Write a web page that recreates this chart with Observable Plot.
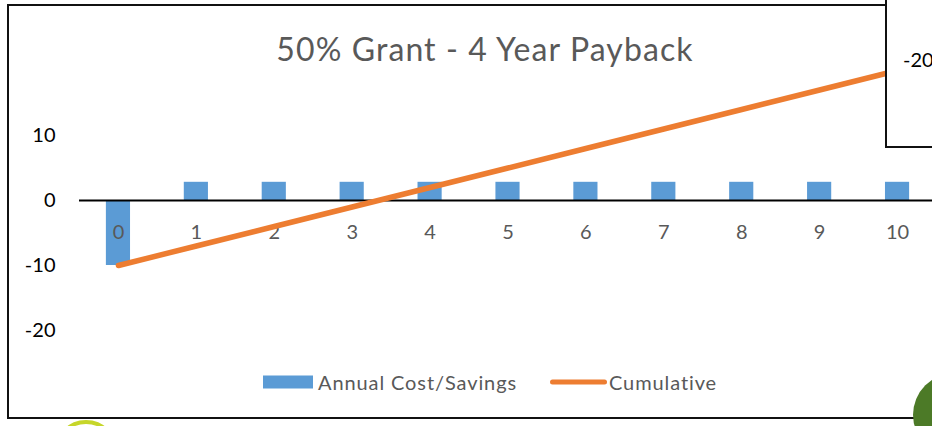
<!DOCTYPE html>
<html>
<head>
<meta charset="utf-8">
<script src="https://cdn.jsdelivr.net/npm/d3@7"></script>
<script src="https://cdn.jsdelivr.net/npm/@observablehq/plot@0.6"></script>
<style>
  html, body { margin: 0; padding: 0; width: 932px; height: 426px; overflow: hidden; background: #fff; }
  #wrap { position: absolute; left: 0; top: 0; width: 940px; height: 426px; font-family: Lato, "Noto Sans", sans-serif; }
  #frame { position: absolute; left: 7px; top: 4px; width: 1000px; height: 415px; border: 2px solid #111; box-sizing: border-box; }
  #title { position: relative; height: 60px; }
  #title span { position: absolute; left: 485px; top: 48px; transform: translate(-50%, -50%); white-space: nowrap; font-size: 32px; letter-spacing: 1.1px; color: #595959; }
  #chart { position: absolute; left: 0; top: 60px; }
  .leg { position: absolute; font-size: 20px; letter-spacing: 0.9px; color: #595959; white-space: nowrap; transform: translateY(-50%); }
  #box { position: absolute; left: 885px; top: -10px; width: 80px; height: 158px; background: #fff; border: 2px solid #111; box-sizing: border-box; }
  #box span { position: absolute; left: 16px; top: 67px; transform: translateY(-50%); font-size: 20px; color: #000; }
  #circle { position: absolute; left: 913px; top: 373px; width: 84px; height: 84px; border-radius: 50%; background: #4c7a27; }
  #logo { position: absolute; left: 54px; top: 420px; width: 64px; height: 64px; border-radius: 50%; border: 4px solid #c6d62a; box-sizing: border-box; }
  #logo2 { position: absolute; left: 64px; top: 428px; width: 44px; height: 44px; border-radius: 50%; border: 3px solid #d4e05a; box-sizing: border-box; }
</style>
</head>
<body>
<div id="wrap">
  <div id="frame"></div>
  <div id="title"><span>50% Grant - 4 Year Payback</span></div>
  <div id="chart"></div>
  <div class="leg" style="left:263px; top:382px; width:50px; height:13px; background:#5B9BD5;"></div>
  <div class="leg" style="left:318px; top:382px;">Annual Cost/Savings</div>
  <div class="leg" style="left:550px; top:382px; width:57px; height:5px; border-radius:3px; background:#ED7D31;"></div>
  <div class="leg" style="left:609px; top:382px;">Cumulative</div>
  <div id="box"><span>-20</span></div>
  <div id="circle"></div>
  <div id="logo"></div>
  <div id="logo2"></div>
</div>
<script>
const years = [0, 1, 2, 3, 4, 5, 6, 7, 8, 9, 10];
const annual = [-10, 2.8, 2.8, 2.8, 2.8, 2.8, 2.8, 2.8, 2.8, 2.8, 2.8];
const cumulative = [-10, -7, -4, -1, 2, 5, 8, 11, 14, 17, 20];
const yTicks = [10, 0, -10, -20];

const rows = years.map((y, i) => ({year: y, annual: annual[i], cumulative: cumulative[i]}));

const chart = Plot.plot({
  width: 940,
  height: 366,
  marginLeft: 79,
  marginRight: 4,
  marginTop: 10,
  marginBottom: 31,
  style: {background: "transparent", fontFamily: "Lato, 'Noto Sans', sans-serif", overflow: "visible"},
  x: {type: "band", domain: years, paddingInner: 0.69, paddingOuter: 0.345, round: false, axis: null},
  y: {domain: [-30, 20], axis: null},
  marks: [
    Plot.barY(rows, {x: "year", y: "annual", fill: "#5B9BD5"}),
    Plot.ruleY([0], {stroke: "#000", strokeWidth: 2}),
    Plot.text(rows, {x: "year", y: () => 0, text: d => String(d.year), dy: 32, fontSize: 20, fill: "#595959"}),
    Plot.lineY(rows, {x: "year", y: "cumulative", stroke: "#ED7D31", strokeWidth: 5.5, strokeLinecap: "round", strokeLinejoin: "round"}),
    Plot.axisY({ticks: yTicks, tickSize: 0, tickPadding: 24, fontSize: 20, fill: "#000", tickFormat: d => String(d), anchor: "left"})
  ]
});
document.getElementById("chart").appendChild(chart);
</script>
</body>
</html>
